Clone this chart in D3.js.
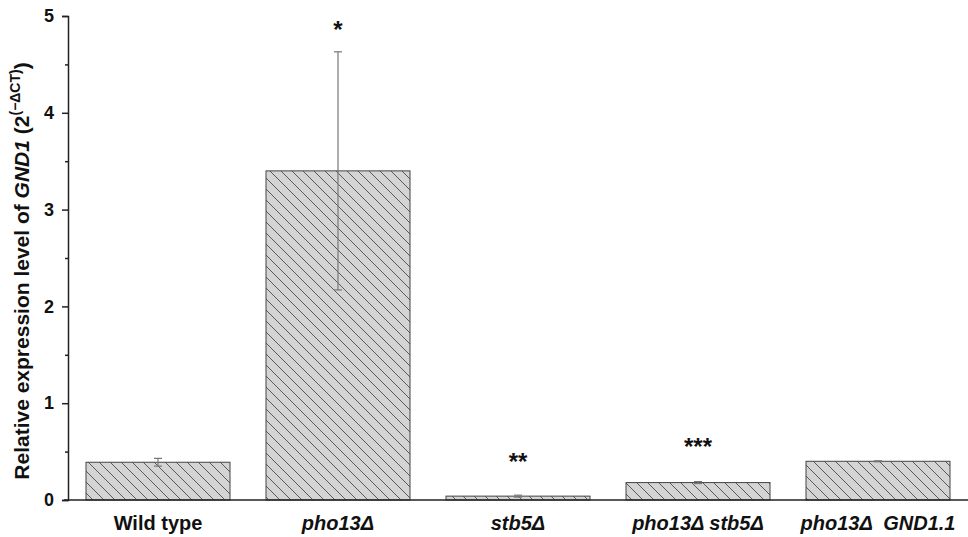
<!DOCTYPE html>
<html>
<head>
<meta charset="utf-8">
<script src="https://cdn.jsdelivr.net/npm/d3@7"></script>
<style>
  html, body { margin: 0; padding: 0; background: #fff; }
  svg text { font-family: Arial, "Liberation Sans", sans-serif; }
</style>
</head>
<body>
<svg id="chart" width="968" height="537"></svg>
<script>
const strains = ["Wild type", "pho13Δ", "stb5Δ", "pho13Δ stb5Δ", "pho13Δ  GND1.1"];
const italicLabel = [false, true, true, true, true];
const expression = [0.39, 3.40, 0.04, 0.18, 0.40];
const errors = [0.04, 1.23, 0.01, 0.01, 0.005];
const stars = ["", "*", "**", "***", ""];
const starY = [0, 4.88, 0.41, 0.57, 0];
const yTicks = [0, 1, 2, 3, 4, 5];

const svg = d3.select("#chart");
const margin = { top: 16, right: 0, bottom: 37, left: 68 };
const width = 968, height = 537;

const x = d3.scaleBand()
  .domain(strains)
  .range([margin.left, width - margin.right])
  .paddingInner(0.2)
  .paddingOuter(0.1);

const y = d3.scaleLinear()
  .domain([0, 5])
  .range([height - margin.bottom, margin.top]);

// hatch pattern "\\"
const defs = svg.append("defs");
const pat = defs.append("pattern")
  .attr("id", "hatch")
  .attr("patternUnits", "userSpaceOnUse")
  .attr("width", 11)
  .attr("height", 11);
pat.append("rect").attr("width", 11).attr("height", 11).attr("fill", "#d4d4d4");
pat.append("path")
  .attr("d", "M-2,-2 L13,13 M-13,-2 L2,13 M9,-2 L24,13")
  .attr("stroke", "#3a3a3a")
  .attr("stroke-width", 0.8);

const data = strains.map((s, i) => ({
  strain: s, value: expression[i], err: errors[i], star: stars[i], starY: starY[i], italic: italicLabel[i]
}));

svg.append("g")
  .selectAll("rect")
  .data(data)
  .join("rect")
  .attr("x", d => x(d.strain))
  .attr("y", d => y(d.value))
  .attr("width", x.bandwidth())
  .attr("height", d => y(0) - y(d.value))
  .attr("fill", "url(#hatch)")
  .attr("stroke", "#444")
  .attr("stroke-width", 1);

// error bars
const eb = svg.append("g").attr("stroke", "#777").attr("stroke-width", 1.2).attr("fill", "none");
data.forEach(d => {
  const cx = x(d.strain) + x.bandwidth() / 2;
  eb.append("line").attr("x1", cx).attr("x2", cx).attr("y1", y(d.value - d.err)).attr("y2", y(d.value + d.err));
  [d.value - d.err, d.value + d.err].forEach(v => {
    eb.append("line").attr("x1", cx - 4).attr("x2", cx + 4).attr("y1", y(v)).attr("y2", y(v));
  });
});

// significance stars
svg.append("g")
  .selectAll("text")
  .data(data.filter(d => d.star))
  .join("text")
  .attr("x", d => x(d.strain) + x.bandwidth() / 2)
  .attr("y", d => y(d.starY) + 10)
  .attr("text-anchor", "middle")
  .attr("font-size", 24)
  .attr("font-weight", "bold")
  .attr("fill", "#111")
  .text(d => d.star);

// y axis
const yAxis = svg.append("g")
  .attr("transform", `translate(${margin.left},0)`)
  .call(d3.axisLeft(y).tickValues(yTicks).tickFormat(d3.format("d")).tickSize(6).tickPadding(8));
yAxis.select(".domain").attr("stroke", "#222").attr("stroke-width", 1.5);
yAxis.selectAll(".tick line").attr("stroke", "#222").attr("stroke-width", 1.5);
yAxis.selectAll("text")
  .attr("font-size", 18)
  .attr("font-weight", "bold")
  .attr("fill", "#111")
  .style("font-family", "Arial, 'Liberation Sans', sans-serif");

svg.append("g")
  .attr("transform", `translate(${margin.left},0)`)
  .call(d3.axisLeft(y).tickValues([0.5, 1.5, 2.5, 3.5, 4.5]).tickSize(3).tickFormat(""))
  .call(g => g.select(".domain").remove())
  .selectAll(".tick line").attr("stroke", "#222").attr("stroke-width", 1.5);

// x axis
const xAxis = svg.append("g")
  .attr("transform", `translate(0,${y(0)})`)
  .call(d3.axisBottom(x).tickSize(0).tickPadding(16).tickSizeOuter(0));
xAxis.select(".domain").attr("stroke", "#222").attr("stroke-width", 1.5)
  .attr("d", `M${margin.left - 4},0H${width}`);
xAxis.selectAll("text")
  .attr("font-size", 20)
  .attr("font-weight", "bold")
  .attr("fill", "#111")
  .attr("dy", "0.71em")
  .style("white-space", "pre")
  .style("font-style", (d, i) => italicLabel[i] ? "italic" : "normal")
  .style("font-family", "Arial, 'Liberation Sans', sans-serif");

// y label
const yl = svg.append("text")
  .attr("transform", `translate(29,${(margin.top + y(0)) / 2 + 13}) rotate(-90)`)
  .attr("text-anchor", "middle")
  .attr("font-size", 21)
  .attr("font-weight", "bold")
  .attr("fill", "#111");
yl.append("tspan").text("Relative expression level of ");
yl.append("tspan").attr("font-style", "italic").text("GND1");
yl.append("tspan").text(" (2");
yl.append("tspan").attr("font-size", 14).attr("dy", -9).text("(−ΔCT)");
yl.append("tspan").attr("dy", 9).text(")");
</script>
</body>
</html>
